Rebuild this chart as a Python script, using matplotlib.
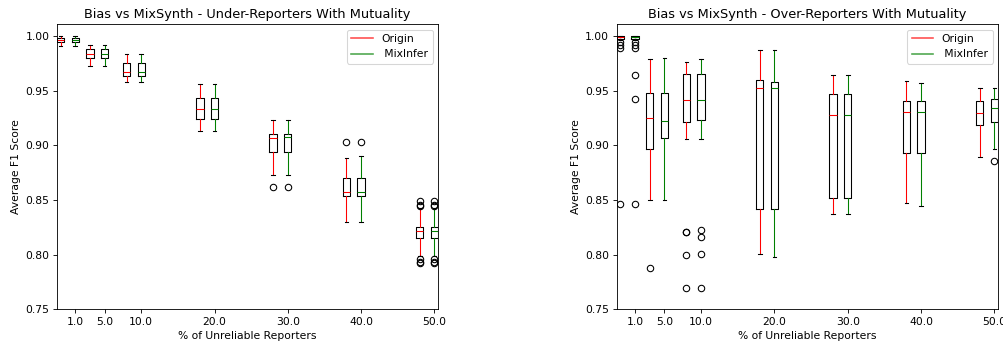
import matplotlib
matplotlib.use("Agg")
import matplotlib.pyplot as plt
from matplotlib.lines import Line2D

pct = [1, 5, 10, 20, 30, 40, 50]

# Under-reporters: box stats
under_origin_q1 = [0.9942, 0.9801, 0.9634, 0.9238, 0.8942, 0.8536, 0.8149]
under_origin_med = [0.9963, 0.9834, 0.9673, 0.9335, 0.9070, 0.8570, 0.8216]
under_origin_q3 = [0.9984, 0.9881, 0.9750, 0.9430, 0.9101, 0.8704, 0.8253]
under_origin_lo = [0.9909, 0.9728, 0.9582, 0.9134, 0.8728, 0.8296, 0.7987]
under_origin_hi = [1.0000, 0.9918, 0.9840, 0.9558, 0.9236, 0.8881, 0.8431]
under_origin_fliers = [[], [], [], [], [0.8621], [0.9027],
                       [0.8488, 0.8455, 0.8445, 0.7963, 0.7930, 0.7920]]

under_mix_q1 = [0.9942, 0.9801, 0.9634, 0.9238, 0.8942, 0.8536, 0.8149]
under_mix_med = [0.9963, 0.9834, 0.9673, 0.9335, 0.9075, 0.8572, 0.8216]
under_mix_q3 = [0.9984, 0.9881, 0.9750, 0.9430, 0.9101, 0.8704, 0.8253]
under_mix_lo = [0.9909, 0.9728, 0.9582, 0.9134, 0.8728, 0.8296, 0.7987]
under_mix_hi = [1.0000, 0.9918, 0.9840, 0.9558, 0.9236, 0.8905, 0.8431]
under_mix_fliers = [[], [], [], [], [0.8621], [0.9027],
                    [0.8488, 0.8455, 0.8445, 0.7963, 0.7930, 0.7920]]

# Over-reporters
over_origin_q1 = [0.9975, 0.8968, 0.9209, 0.8418, 0.8516, 0.8934, 0.9188]
over_origin_med = [0.9990, 0.9249, 0.9415, 0.9527, 0.9273, 0.9307, 0.9295]
over_origin_q3 = [1.0000, 0.9476, 0.9650, 0.9600, 0.9469, 0.9410, 0.9410]
over_origin_lo = [0.9968, 0.8504, 0.9054, 0.8004, 0.8375, 0.8473, 0.8897]
over_origin_hi = [1.0000, 0.9794, 0.9760, 0.9875, 0.9646, 0.9584, 0.9520]
over_origin_fliers = [[0.9941, 0.9920, 0.9890, 0.8462], [0.7881],
                      [0.8207, 0.8203, 0.8000, 0.7699], [], [], [], []]

over_mix_q1 = [0.9975, 0.9066, 0.9234, 0.8418, 0.8516, 0.8934, 0.9209]
over_mix_med = [0.9990, 0.9227, 0.9414, 0.9527, 0.9273, 0.9304, 0.9340]
over_mix_q3 = [1.0000, 0.9478, 0.9652, 0.9582, 0.9469, 0.9410, 0.9426]
over_mix_lo = [0.9968, 0.8504, 0.9057, 0.7982, 0.8375, 0.8446, 0.8962]
over_mix_hi = [1.0000, 0.9795, 0.9786, 0.9875, 0.9646, 0.9566, 0.9520]
over_mix_fliers = [[0.9941, 0.9920, 0.9890, 0.9646, 0.9426, 0.8462], [],
                   [0.8229, 0.8162, 0.8004, 0.7698], [], [], [], [0.8861]]


def stats(q1, med, q3, lo, hi, fl):
    return [dict(q1=a, med=b, q3=c, whislo=d, whishi=e, fliers=f)
            for a, b, c, d, e, f in zip(q1, med, q3, lo, hi, fl)]


def draw(ax, st_origin, st_mix, title):
    for st, col, off in [(st_origin, 'red', -2), (st_mix, 'green', 0)]:
        ax.bxp(st, positions=[p + off for p in pct], widths=1,
               showfliers=True, manage_ticks=False,
               whiskerprops=dict(color=col),
               medianprops=dict(color=col),
               capprops=dict(color='black'),
               boxprops=dict(color='black'))
    ax.set_xticks(pct)
    ax.set_xticklabels([str(float(p)) for p in pct])
    ax.set_xlim(-1.5, 50.5)
    ax.set_ylim(0.75, 1.0107)
    ax.set_yticks([0.75, 0.80, 0.85, 0.90, 0.95, 1.00])
    ax.set_title(title)
    ax.set_xlabel('% of Unreliable Reporters')
    ax.set_ylabel('Average F1 Score')
    handles = [Line2D([], [], color='red', alpha=0.7),
               Line2D([], [], color='green', alpha=0.7)]
    ax.legend(handles, ['Origin', ' MixInfer'], loc='upper right')


# rendered at a low dpi so text and lines come out at the reference scale
DPI = 77
fig = plt.figure(figsize=(1003 / DPI, 347 / DPI), dpi=DPI)
ax1 = fig.add_axes([0.0568, 0.1086, 0.3799, 0.8213])
ax2 = fig.add_axes([0.6149, 0.1086, 0.3802, 0.8213])

draw(ax1,
     stats(under_origin_q1, under_origin_med, under_origin_q3,
           under_origin_lo, under_origin_hi, under_origin_fliers),
     stats(under_mix_q1, under_mix_med, under_mix_q3,
           under_mix_lo, under_mix_hi, under_mix_fliers),
     'Bias vs MixSynth - Under-Reporters With Mutuality')
draw(ax2,
     stats(over_origin_q1, over_origin_med, over_origin_q3,
           over_origin_lo, over_origin_hi, over_origin_fliers),
     stats(over_mix_q1, over_mix_med, over_mix_q3,
           over_mix_lo, over_mix_hi, over_mix_fliers),
     'Bias vs MixSynth - Over-Reporters With Mutuality')

fig.savefig('out.png', dpi=DPI)
